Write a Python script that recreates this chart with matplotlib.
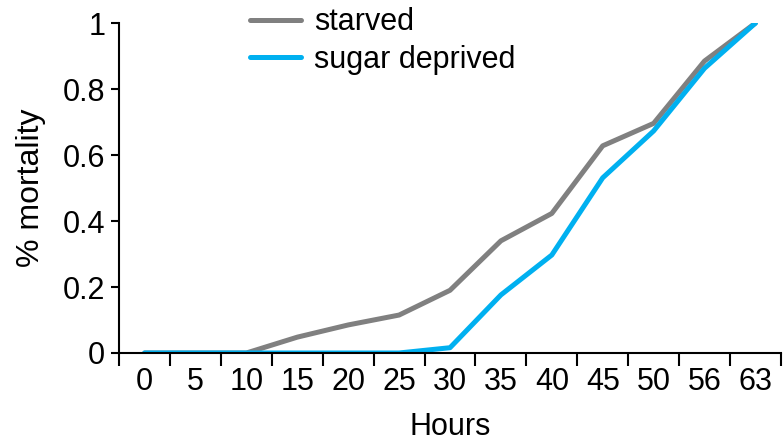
import matplotlib
matplotlib.use("Agg")
import matplotlib.pyplot as plt
import numpy as np

plt.rcParams["font.family"] = ["Liberation Sans", "DejaVu Sans"]

hours = ["0", "5", "10", "15", "20", "25", "30", "35", "40", "45", "50", "56", "63"]
starved = [0, 0, 0, 0.048, 0.085, 0.115, 0.19, 0.34, 0.423, 0.628, 0.696, 0.885, 1.0]
sugar_deprived = [0, 0, 0, 0, 0, 0, 0.016, 0.176, 0.297, 0.531, 0.673, 0.863, 1.0]

fig = plt.figure(figsize=(7.84, 4.44), dpi=100)
ax = fig.add_axes([0.152, 0.205, 0.844, 0.743])

x = np.arange(len(hours))
ax.plot(x, starved, color="#808080", lw=3.6, label="starved", solid_capstyle="round")
ax.plot(x, sugar_deprived, color="#00B0F0", lw=3.6, label="sugar deprived", solid_capstyle="round")

ax.set_xlim(-0.5, len(hours) - 0.5)
ax.set_ylim(0, 1)
ax.set_yticks([0, 0.2, 0.4, 0.6, 0.8, 1.0])
ax.set_yticklabels(["0", "0.2", "0.4", "0.6", "0.8", "1"])
ax.set_xticks(x)
ax.set_xticklabels(hours)
ax.set_xticks(np.arange(len(hours) + 1) - 0.5, minor=True)
ax.tick_params(axis="x", which="major", length=0, labelsize=22, pad=10)
ax.tick_params(axis="x", which="minor", length=9, width=1.5, direction="out")
ax.tick_params(axis="y", length=6, width=1.5, labelsize=22, pad=4)

for side in ["top", "right"]:
    ax.spines[side].set_visible(False)
for side in ["left", "bottom"]:
    ax.spines[side].set_linewidth(1.5)

ax.set_xlabel("Hours", fontsize=22, labelpad=11)
ax.set_ylabel("% mortality", fontsize=23, labelpad=12)

ax.legend(loc="upper left", bbox_to_anchor=(0.18, 1.085), frameon=False,
          fontsize=22, handlelength=1.64, handletextpad=0.43, labelspacing=0.25,
          borderaxespad=0)

fig.savefig("out.png", dpi=100)
